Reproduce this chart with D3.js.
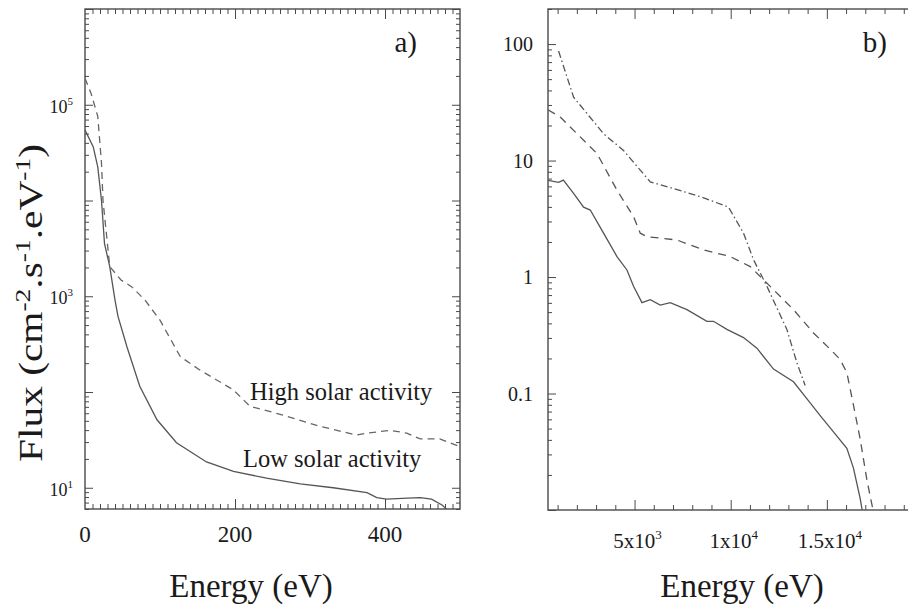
<!DOCTYPE html>
<html><head><meta charset="utf-8">
<script src="https://cdn.jsdelivr.net/npm/d3@7"></script>
<style>
body{margin:0;background:#fff}
svg{display:block}
svg text{font-family:"Liberation Serif","DejaVu Serif","Times New Roman",Times,serif;fill:#1a1a1a}
</style></head>
<body><svg id="c" width="908" height="608" font-family="Liberation Serif, DejaVu Serif, serif"></svg>
<script>
// ---------- Panel a data (Energy eV, Flux) ----------
const lowEnergy  = [0, 11, 17, 22, 26, 33, 40, 44, 56, 73, 96, 122, 162, 198, 242, 287, 331, 376, 389, 402, 430, 447, 462, 476, 482];
const lowFlux    = [54500, 36300, 22400, 10000, 3550, 2040, 912, 617, 295, 115, 51.3, 29.5, 18.6, 14.8, 12.6, 11.0, 10.0, 8.9, 7.9, 7.6, 7.8, 7.9, 7.6, 6.6, 6.0];
const highEnergy = [0, 8, 17, 22, 24, 33, 48, 62, 80, 100, 127, 153, 198, 220, 264, 309, 362, 376, 407, 429, 447, 473, 500];
const highFlux   = [189000, 132000, 75900, 24500, 10000, 2040, 1480, 1260, 912, 562, 234, 170, 105, 70.8, 57.5, 44.7, 35.5, 37.2, 39.8, 37.2, 32.4, 32.4, 26.9];
const aEnergyTicks = [0, 200, 400];
const aFluxTickExps = [1, 3, 5];

// ---------- Panel b data (Energy eV, Flux) ----------
const dotEnergy  = [1050, 1830, 3389, 4429, 5817, 7028, 8415, 9887, 10667, 11186, 11883, 12922, 13442, 13873];
const dotFlux    = [87.1, 35.0, 17.0, 12.2, 6.56, 5.75, 4.90, 3.98, 2.38, 1.41, 0.832, 0.355, 0.184, 0.117];
const dashEnergy = [500, 1138, 2006, 3046, 4086, 4948, 5297, 5645, 7204, 8587, 9975, 11015, 12054, 13265, 14305, 15173, 15693, 16041, 16384, 16732, 17081, 17400];
const dashFlux   = [27.3, 23.6, 17.0, 11.5, 5.57, 3.30, 2.38, 2.22, 2.08, 1.71, 1.50, 1.23, 0.832, 0.525, 0.331, 0.240, 0.196, 0.151, 0.0794, 0.0407, 0.0182, 0.0100];
const solidEnergy = [500, 1050, 1300, 1830, 2350, 2698, 3389, 4086, 4605, 4948, 5385, 5817, 6336, 6856, 7724, 8764, 9107, 9803, 10667, 11363, 12226, 13265, 14133, 14653, 15344, 16041, 16384, 16732, 16836];
const solidFlux   = [6.76, 6.5, 6.79, 5.22, 3.98, 3.76, 2.38, 1.50, 1.15, 0.832, 0.603, 0.640, 0.575, 0.603, 0.525, 0.417, 0.417, 0.355, 0.302, 0.245, 0.162, 0.126, 0.0832, 0.0646, 0.0468, 0.0339, 0.0229, 0.0126, 0.0100];
const bEnergyTicks = [5000, 10000, 15000];
const bEnergyTickBase = ["5x10", "1x10", "1.5x10"];
const bEnergyTickExp = ["3", "4", "4"];
const bFluxTicks = [0.1, 1, 10, 100];
const bFluxTickLabels = ["0.1", "1", "10", "100"];

const svg = d3.select("#c");
const ink = "#4a4a4a", lineInk = "#555";
const serif = "Liberation Serif, DejaVu Serif, serif";

// ---------- scales ----------
const xa = d3.scaleLinear().domain([0, 500]).range([85, 460]);
const ya = d3.scaleLog().domain([6, 1e6]).range([509, 9]);
const xb = d3.scaleLinear().domain([500, 20000]).range([548, 923]);
const yb = d3.scaleLog().domain([0.01, 200]).range([510, 9]);

function clip(id, x0, x1, y0, y1) {
  svg.append("clipPath").attr("id", id).append("rect")
    .attr("x", x0).attr("y", y0).attr("width", x1 - x0).attr("height", y1 - y0);
}
clip("ca", 85, 460, 9, 509);
clip("cb", 548, 923, 9, 510);

function tickAxis(axis, tx, ty) {
  const g = svg.append("g").attr("transform", `translate(${tx},${ty})`).call(axis);
  g.select(".domain").remove();
  g.selectAll("line").attr("stroke", ink).attr("stroke-width", 1);
  return g;
}
function isDecade(v) { const l = Math.log10(v); return Math.abs(l - Math.round(l)) < 1e-9; }
function txt(x, y, size, s) {
  return svg.append("text").attr("x", x).attr("y", y).attr("font-size", size)
    .attr("font-family", serif).text(s);
}

// ---------- Panel a ----------
const aMinorY = ya.ticks().filter(v => !isDecade(v));
const aMajorY = ya.ticks().filter(isDecade);
tickAxis(d3.axisLeft(ya).tickValues(aMinorY).tickSize(-4).tickFormat(""), 85, 0);
tickAxis(d3.axisLeft(ya).tickValues(aMajorY).tickSize(-8).tickFormat(""), 85, 0);
tickAxis(d3.axisRight(ya).tickValues(aMinorY).tickSize(-4).tickFormat(""), 460, 0);
tickAxis(d3.axisRight(ya).tickValues(aMajorY).tickSize(-8).tickFormat(""), 460, 0);
const aMinorX = d3.range(10, 500, 10).filter(v => v % 200 !== 0);
tickAxis(d3.axisBottom(xa).tickValues(aMinorX).tickSize(-5).tickFormat(""), 0, 509);
tickAxis(d3.axisBottom(xa).tickValues([200, 400]).tickSize(-10).tickFormat(""), 0, 509);
tickAxis(d3.axisTop(xa).tickValues(aMinorX).tickSize(-5).tickFormat(""), 0, 9);
tickAxis(d3.axisTop(xa).tickValues([200, 400]).tickSize(-10).tickFormat(""), 0, 9);

svg.append("rect").attr("x", 85).attr("y", 9).attr("width", 375).attr("height", 500)
  .attr("fill", "none").attr("stroke", ink).attr("stroke-width", 1.4);

const lineA = d3.line().x(d => xa(d[0])).y(d => ya(d[1]));
svg.append("path").datum(d3.zip(lowEnergy, lowFlux)).attr("d", lineA)
  .attr("clip-path", "url(#ca)").attr("fill", "none").attr("stroke", lineInk).attr("stroke-width", 1.3);
svg.append("path").datum(d3.zip(highEnergy, highFlux)).attr("d", lineA)
  .attr("clip-path", "url(#ca)").attr("fill", "none").attr("stroke", "#666").attr("stroke-width", 1.3)
  .attr("stroke-dasharray", "7,5");

// x tick labels a
aEnergyTicks.forEach(v => txt(xa(v), 542, 23, v).attr("text-anchor", "middle"));
// y tick labels a
aFluxTickExps.forEach(e => {
  const t = txt(73, ya(Math.pow(10, e)) + 8, 18, null).attr("text-anchor", "end");
  t.append("tspan").text("10");
  t.append("tspan").attr("dy", -8).attr("font-size", 11).text(e);
});

txt(417, 52, 29, "a)").attr("text-anchor", "end");
txt(250, 400, 24.5, "High solar activity");
txt(243, 467, 24.5, "Low solar activity");

// axis titles
txt(251, 597, 33, "Energy (eV)").attr("text-anchor", "middle");
const yt = svg.append("text").attr("transform", "translate(42,303) rotate(-90)")
  .attr("text-anchor", "middle").attr("font-size", 33).attr("font-family", serif)
  .attr("textLength", 318).attr("lengthAdjust", "spacingAndGlyphs");
yt.append("tspan").text("Flux (cm");
yt.append("tspan").attr("dy", -12).attr("font-size", 22).text("-2");
yt.append("tspan").attr("dy", 12).text(".s");
yt.append("tspan").attr("dy", -12).attr("font-size", 22).text("-1");
yt.append("tspan").attr("dy", 12).text(".eV");
yt.append("tspan").attr("dy", -12).attr("font-size", 22).text("-1");
yt.append("tspan").attr("dy", 12).text(")");

// ---------- Panel b ----------
const bMinorY = yb.ticks().filter(v => !isDecade(v));
const bMajorY = yb.ticks().filter(isDecade);
tickAxis(d3.axisLeft(yb).tickValues(bMinorY).tickSize(-4).tickFormat(""), 548, 0);
tickAxis(d3.axisLeft(yb).tickValues(bMajorY).tickSize(-8).tickFormat(""), 548, 0);
const bMinorX = d3.range(1000, 20000, 1000).filter(v => v % 5000 !== 0);
tickAxis(d3.axisBottom(xb).tickValues(bMinorX).tickSize(-5).tickFormat(""), 0, 510);
tickAxis(d3.axisBottom(xb).tickValues(bEnergyTicks).tickSize(-10).tickFormat(""), 0, 510);
tickAxis(d3.axisTop(xb).tickValues(bMinorX).tickSize(-5).tickFormat(""), 0, 9);
tickAxis(d3.axisTop(xb).tickValues(bEnergyTicks).tickSize(-10).tickFormat(""), 0, 9);

svg.append("rect").attr("x", 548).attr("y", 9).attr("width", 375).attr("height", 501)
  .attr("fill", "none").attr("stroke", ink).attr("stroke-width", 1.4);

const lineB = d3.line().x(d => xb(d[0])).y(d => yb(d[1]));
svg.append("path").datum(d3.zip(dotEnergy, dotFlux)).attr("d", lineB)
  .attr("clip-path", "url(#cb)").attr("fill", "none").attr("stroke", lineInk).attr("stroke-width", 1.3)
  .attr("stroke-dasharray", "7,3,1.5,3");
svg.append("path").datum(d3.zip(dashEnergy, dashFlux)).attr("d", lineB)
  .attr("clip-path", "url(#cb)").attr("fill", "none").attr("stroke", lineInk).attr("stroke-width", 1.3)
  .attr("stroke-dasharray", "8,6");
svg.append("path").datum(d3.zip(solidEnergy, solidFlux)).attr("d", lineB)
  .attr("clip-path", "url(#cb)").attr("fill", "none").attr("stroke", lineInk).attr("stroke-width", 1.3);

// y tick labels b
bFluxTicks.forEach((v, i) => txt(533, yb(v) + 7, 20, bFluxTickLabels[i]).attr("text-anchor", "end"));
// x tick labels b
bEnergyTicks.forEach((v, i) => {
  const t = txt(xb(v) + 3, 548, 21, null).attr("text-anchor", "middle");
  t.append("tspan").text(bEnergyTickBase[i]);
  t.append("tspan").attr("dy", -9).attr("font-size", 13).text(bEnergyTickExp[i]);
});

txt(887, 52, 29, "b)").attr("text-anchor", "end");
txt(742, 597, 33, "Energy (eV)").attr("text-anchor", "middle");
</script>
</body></html>
